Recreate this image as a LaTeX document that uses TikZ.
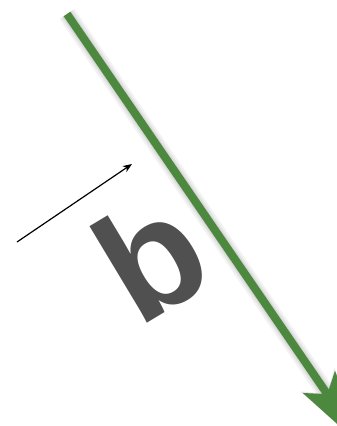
\documentclass[tikz,border=0pt]{standalone}
\usepackage{fontspec}
\setmainfont{Liberation Sans}
\usetikzlibrary{arrows.meta}
\definecolor{vgreen}{RGB}{76,137,63}
\definecolor{lettergray}{RGB}{80,80,80}
\tikzset{
  greentip/.style={-{Stealth[length=80pt,width=38pt,inset=14pt]}},
  greenvec/.style={line width=8pt, draw=vgreen, greentip},
  shadowvec/.style={line width=#1, draw=black, opacity=0.05, greentip},
  thinvec/.style={line width=1.2pt, draw=black, -{Stealth[length=9pt,width=7pt,inset=2.5pt]}},
  letter/.style={font=\fontsize{155}{155}\selectfont\bfseries, text=lettergray, rotate=31, inner sep=0pt, anchor=base west}
}
\begin{document}
\begin{tikzpicture}[x=1pt,y=-1pt]
\useasboundingbox (0,0) rectangle (337,426);
\coordinate (gs) at (67,14);
\coordinate (ge) at (364.6,448.7);
\coordinate (ts) at (17,242);
\coordinate (te) at (132,164);
\begin{scope}
  \clip (0,0) rectangle (337,426);
  % shadow of the green vector
  \begin{scope}[shift={(-6,6)}]
    \foreach \w in {18pt,14pt,11pt,9pt}{
      \draw[shadowvec=\w] (gs) -- (ge);
    }
  \end{scope}
  \draw[greenvec] (gs) -- (ge);
\end{scope}
% thin vector
\draw[thinvec] (ts) -- (te);
% label
\node[letter] (lb) at (137.9,328.6) {b};
\end{tikzpicture}
\end{document}
